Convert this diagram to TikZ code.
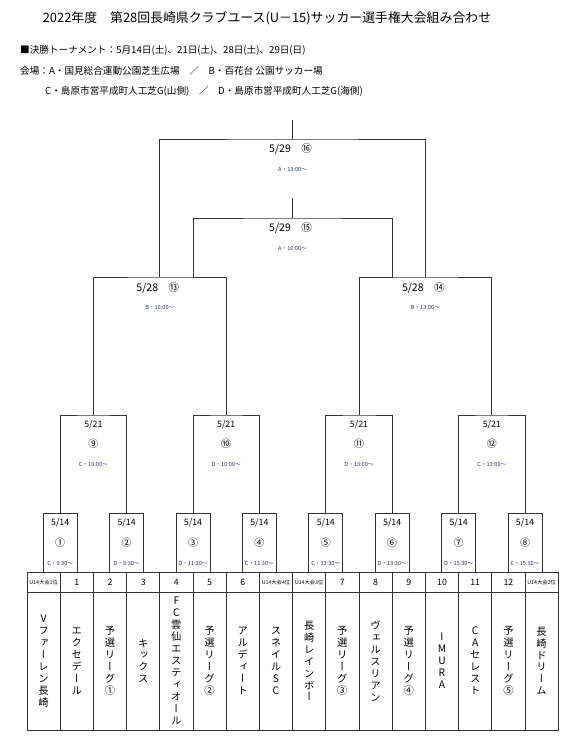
\documentclass[tikz,border=0pt]{standalone}
\usepackage{fontspec}
\setmainfont{Noto Sans CJK JP}
\newfontfamily\tatefont[RawFeature=+vert]{Noto Sans CJK JP}
\usetikzlibrary{positioning}
\definecolor{timeblue}{RGB}{40,50,120}

\begin{document}
\begin{tikzpicture}[x=0.03cm,y=-0.03cm,
  ln/.style={draw=black!80,line width=0.8pt},
  mbox/.style={ln,minimum width=1.02cm,minimum height=1.77cm,inner sep=0pt},
  hcell/.style={ln,minimum width=0.996cm,minimum height=0.6cm,inner sep=0pt,font=\fontsize{7.5}{9}\selectfont},
  tcell/.style={ln,minimum width=0.996cm,minimum height=4.14cm,inner sep=0pt,align=center,font=\tatefont\fontsize{8.8}{10.2}\selectfont},
  dsm/.style={font=\fontsize{7.5}{9}\selectfont,inner sep=0pt},
  csm/.style={font=\fontsize{8.5}{10}\selectfont,inner sep=0pt},
  dlg/.style={font=\fontsize{9}{11}\selectfont,inner sep=0pt},
  tm/.style={font=\fontsize{4.8}{6}\selectfont,text=timeblue,inner sep=0pt},
  info/.style={anchor=west,font=\fontsize{8.2}{10}\selectfont,inner sep=0pt}]
\useasboundingbox (0,0) rectangle (569,749);

\node[font=\fontsize{11}{13}\selectfont,inner sep=0pt] (title) at (267,18) {2022年度　第28回長崎県クラブユース(U－15)サッカー選手権大会組み合わせ};
\node[info] (sched) at (20,50) {■決勝トーナメント：5月14日(土)、21日(土)、28日(土)、29日(日)};
\node[info] (venue1) at (20,71) {会場：A・国見総合運動公園芝生広場　／　B・百花台 公園サッカー場};
\node[info] (venue2) at (45,91) {C・島原市営平成町人工芝G(山側)　／　D・島原市営平成町人工芝G(海側)};

% table
\foreach \h [count=\i from 0] in {{\fontsize{4.5}{5}\selectfont U14大会1位},1,2,3,4,5,6,{\fontsize{4.5}{5}\selectfont U14大会4位},{\fontsize{4.5}{5}\selectfont U14大会3位},7,8,9,10,11,12,{\fontsize{4.5}{5}\selectfont U14大会2位}}
  \node[hcell] (h\i) at ({43.6+33.2*\i},582) {\h};
\foreach \n [count=\i from 0] in {
  {V\\フ\\ァ\\ー\\レ\\ン\\長\\崎},
  {エ\\ク\\セ\\デ\\ー\\ル},
  {予\\選\\リ\\ー\\グ\\①},
  {キ\\ッ\\ク\\ス},
  {F\\C\\雲\\仙\\エ\\ス\\テ\\ィ\\オ\\ー\\ル},
  {予\\選\\リ\\ー\\グ\\②},
  {ア\\ル\\デ\\ィ\\ー\\ト},
  {ス\\ネ\\イ\\ル\\S\\C},
  {長\\崎\\レ\\イ\\ン\\ボ\\ー},
  {予\\選\\リ\\ー\\グ\\③},
  {ヴ\\ェ\\ル\\ス\\リ\\ア\\ン},
  {予\\選\\リ\\ー\\グ\\④},
  {I\\M\\U\\R\\A},
  {C\\A\\セ\\レ\\ス\\ト},
  {予\\選\\リ\\ー\\グ\\⑤},
  {長\\崎\\ド\\リ\\ー\\ム}}
  \node[tcell] (t\i) at ({43.6+33.2*\i},661) {\n};

% first round
\foreach \k/\c/\t in {1/①/C・9:30～,2/②/D・9:30～,3/③/D・11:30～,4/④/C・11:30～,5/⑤/C・13:30～,6/⑥/D・13:30～,7/⑦/D・15:30～,8/⑧/C・15:30～}{
  \node[mbox] (m\k) at ({60.2+66.4*(\k-1)},542.5) {};
  \node[dsm] (d\k) at ({60.2+66.4*(\k-1)},523) {5/14};
  \node[csm] (n\k) at ({60.2+66.4*(\k-1)},543) {\c};
  \node[tm] (s\k) at ({60.2+66.4*(\k-1)},563) {\t};
}

% second round
\foreach \k/\c/\t in {9/⑨/C・10:00～,10/⑩/D・10:00～,11/⑪/D・13:00～,12/⑫/C・13:00～}{
  \coordinate (q\k) at ({93.4+132.8*(\k-9)},415);
  \node[dsm] (d\k) at ({93.4+132.8*(\k-9)},425) {5/21};
  \node[csm] (n\k) at ({93.4+132.8*(\k-9)},444) {\c};
  \node[tm] (s\k) at ({93.4+132.8*(\k-9)},464) {\t};
}
\draw[ln] (m1.north) |- (q9) -| (m2.north);
\draw[ln] (m3.north) |- (q10) -| (m4.north);
\draw[ln] (m5.north) |- (q11) -| (m6.north);
\draw[ln] (m7.north) |- (q12) -| (m8.north);

% semi-finals
\coordinate (q13) at (159.8,277);
\coordinate (q14) at (425.4,277);
\node[dlg] (d13) at (157.8,288) {5/28　⑬};
\node[tm] (s13) at (159.8,307) {B・10:00～};
\node[dlg] (d14) at (423.4,288) {5/28　⑭};
\node[tm] (s14) at (425.4,307) {B・13:00～};
\draw[ln] (q9) |- (q13) -| (q10);
\draw[ln] (q11) |- (q14) -| (q12);

% 3rd place and final
\coordinate (l15a) at (193,277);
\coordinate (l15b) at (392.2,277);
\coordinate (q15) at (292.6,218);
\coordinate (w15) at (292.6,198);
\node[dlg] (d15) at (290.6,228) {5/29　⑮};
\node[tm] (s15) at (292.6,248) {A・10:00～};
\draw[ln] (l15a) |- (q15) -| (l15b);
\draw[ln] (q15) -- (w15);

\coordinate (q16) at (292.6,139);
\coordinate (w16) at (292.6,120);
\node[dlg] (d16) at (290.6,149) {5/29　⑯};
\node[tm] (s16) at (292.6,169) {A・13:00～};
\draw[ln] (q13) |- (q16) -| (q14);
\draw[ln] (q16) -- (w16);
\end{tikzpicture}
\end{document}
